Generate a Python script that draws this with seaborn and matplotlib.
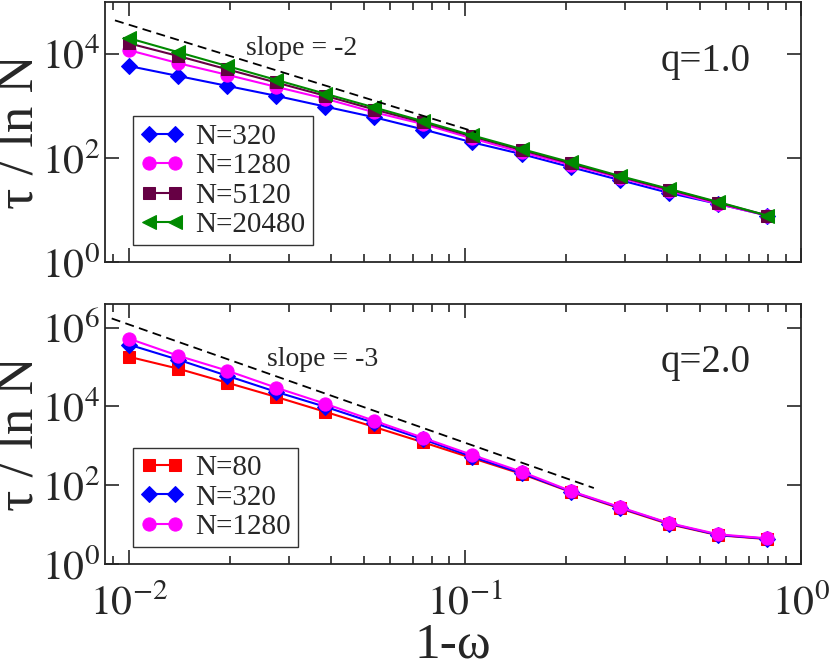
import numpy as np
import pandas as pd
import matplotlib
matplotlib.use("Agg")
import matplotlib.pyplot as plt
import matplotlib.ticker as mticker
import seaborn as sns

# data
one_minus_w = [0.01, 0.014, 0.0196, 0.0274, 0.0384, 0.0538, 0.0753,
               0.105, 0.148, 0.207, 0.289, 0.405, 0.567, 0.794]

# q = 1.0
q1_n320 = [5900, 3800, 2450, 1580, 980, 610, 355, 202, 119, 67, 38, 21.5, 13.2, 7.9]
q1_n1280 = [11900, 6700, 4000, 2350, 1390, 760, 450, 240, 130, 74, 42, 23.5, 13.2, 7.9]
q1_n5120 = [16100, 9200, 5100, 2850, 1580, 860, 485, 262, 142, 79, 44, 25, 14, 7.9]
q1_n20480 = [20200, 10900, 5900, 3200, 1730, 940, 510, 275, 149, 83, 45.5, 25.7, 14.4, 7.9]

# q = 2.0
q2_n80 = [182000, 91000, 40000, 17500, 7300, 3000, 1220, 490, 192, 67, 26, 10.3, 5.4, 4.3]
q2_n320 = [370000, 154000, 60000, 23500, 9800, 3800, 1450, 530, 200, 69, 27, 10.7, 5.5, 4.4]
q2_n1280 = [525000, 194000, 81000, 30000, 11700, 4300, 1590, 590, 218, 71, 28, 11, 5.7, 4.5]

# guide lines (end points)
slope2_x = [0.0091, 0.108]
slope2_y = [44300, 315]
slope3_x = [0.0089, 0.242]
slope3_y = [1.7e6, 85]

sns.set_style("ticks")
plt.rcParams['font.family'] = ['Liberation Serif', 'DejaVu Serif']
plt.rcParams['mathtext.fontset'] = 'stix'

fig = plt.figure(figsize=(8.3, 6.59), dpi=100)
ax1 = fig.add_axes([0.1265, 0.602, 0.8385, 0.395])
ax2 = fig.add_axes([0.1265, 0.144, 0.8385, 0.395])


def draw(ax, series, guide_x, guide_y):
    for lab, vals, color, marker, ms in series:
        sns.lineplot(x=one_minus_w, y=vals, ax=ax, color=color, marker=marker,
                     markersize=ms, markeredgecolor=color, linewidth=1.5,
                     sort=False, label=lab)
    ax.plot(guide_x, guide_y, color='black', linestyle=(0, (5, 3)), linewidth=1.3)


top_series = [
    ("N=320", q1_n320, "#0000ff", "D", 8),
    ("N=1280", q1_n1280, "#ff00ff", "o", 9.5),
    ("N=5120", q1_n5120, "#660044", "s", 8),
    ("N=20480", q1_n20480, "#008a00", "<", 10),
]
bot_series = [
    ("N=80", q2_n80, "#ff0000", "s", 8),
    ("N=320", q2_n320, "#0000ff", "D", 8),
    ("N=1280", q2_n1280, "#ff00ff", "o", 9.5),
]
draw(ax1, top_series, slope2_x, slope2_y)
draw(ax2, bot_series, slope3_x, slope3_y)

ax1.set_ylim(1, 1e5)
ax2.set_ylim(1, 4e6)


def sci_fmt(v, pos):
    return r"$10^{%d}$" % int(round(np.log10(v)))


for ax in (ax1, ax2):
    ax.set_xscale('log')
    ax.set_yscale('log')
    ax.set_xlim(0.0085, 1.0)
    ax.yaxis.set_major_locator(mticker.LogLocator(base=100, numticks=10))
    ax.yaxis.set_minor_locator(mticker.NullLocator())
    ax.xaxis.set_major_locator(mticker.LogLocator(base=10, numticks=10))
    ax.xaxis.set_minor_locator(mticker.LogLocator(base=10, subs=np.arange(2, 10), numticks=10))
    ax.yaxis.set_major_formatter(mticker.FuncFormatter(sci_fmt))
    ax.xaxis.set_major_formatter(mticker.FuncFormatter(sci_fmt))
    ax.tick_params(which='both', direction='in', top=True, right=True,
                   labelsize=30, width=1.2)
    ax.tick_params(which='major', length=10)
    ax.tick_params(which='minor', length=6)
    ax.tick_params(axis='x', pad=15)
    for sp in ax.spines.values():
        sp.set_linewidth(1.3)
    ax.set_ylabel(r"τ / ln N", fontsize=38)
    ax.yaxis.set_label_coords(-0.088, 0.5)
    leg = ax.legend(loc='lower left', bbox_to_anchor=(0.04, 0.065), fontsize=21,
                    handlelength=1.5, numpoints=2, frameon=True, fancybox=False,
                    borderpad=0.25, labelspacing=0.1, handletextpad=0.4,
                    borderaxespad=0)
    leg.get_frame().set_edgecolor('black')
    leg.get_frame().set_linewidth(1.0)

ax1.tick_params(labelbottom=False)
ax2.set_xlabel("1-ω", fontsize=37)
ax2.xaxis.set_label_coords(0.5, -0.222)

ax1.text(0.283, 0.823, "slope = -2", transform=ax1.transAxes, fontsize=20,
         ha='center', va='center')
ax2.text(0.312, 0.785, "slope = -3", transform=ax2.transAxes, fontsize=20,
         ha='center', va='center')
ax1.text(0.863, 0.77, "q=1.0", transform=ax1.transAxes, fontsize=28,
         ha='center', va='center')
ax2.text(0.863, 0.775, "q=2.0", transform=ax2.transAxes, fontsize=28,
         ha='center', va='center')

fig.savefig("out.png", dpi=100)
